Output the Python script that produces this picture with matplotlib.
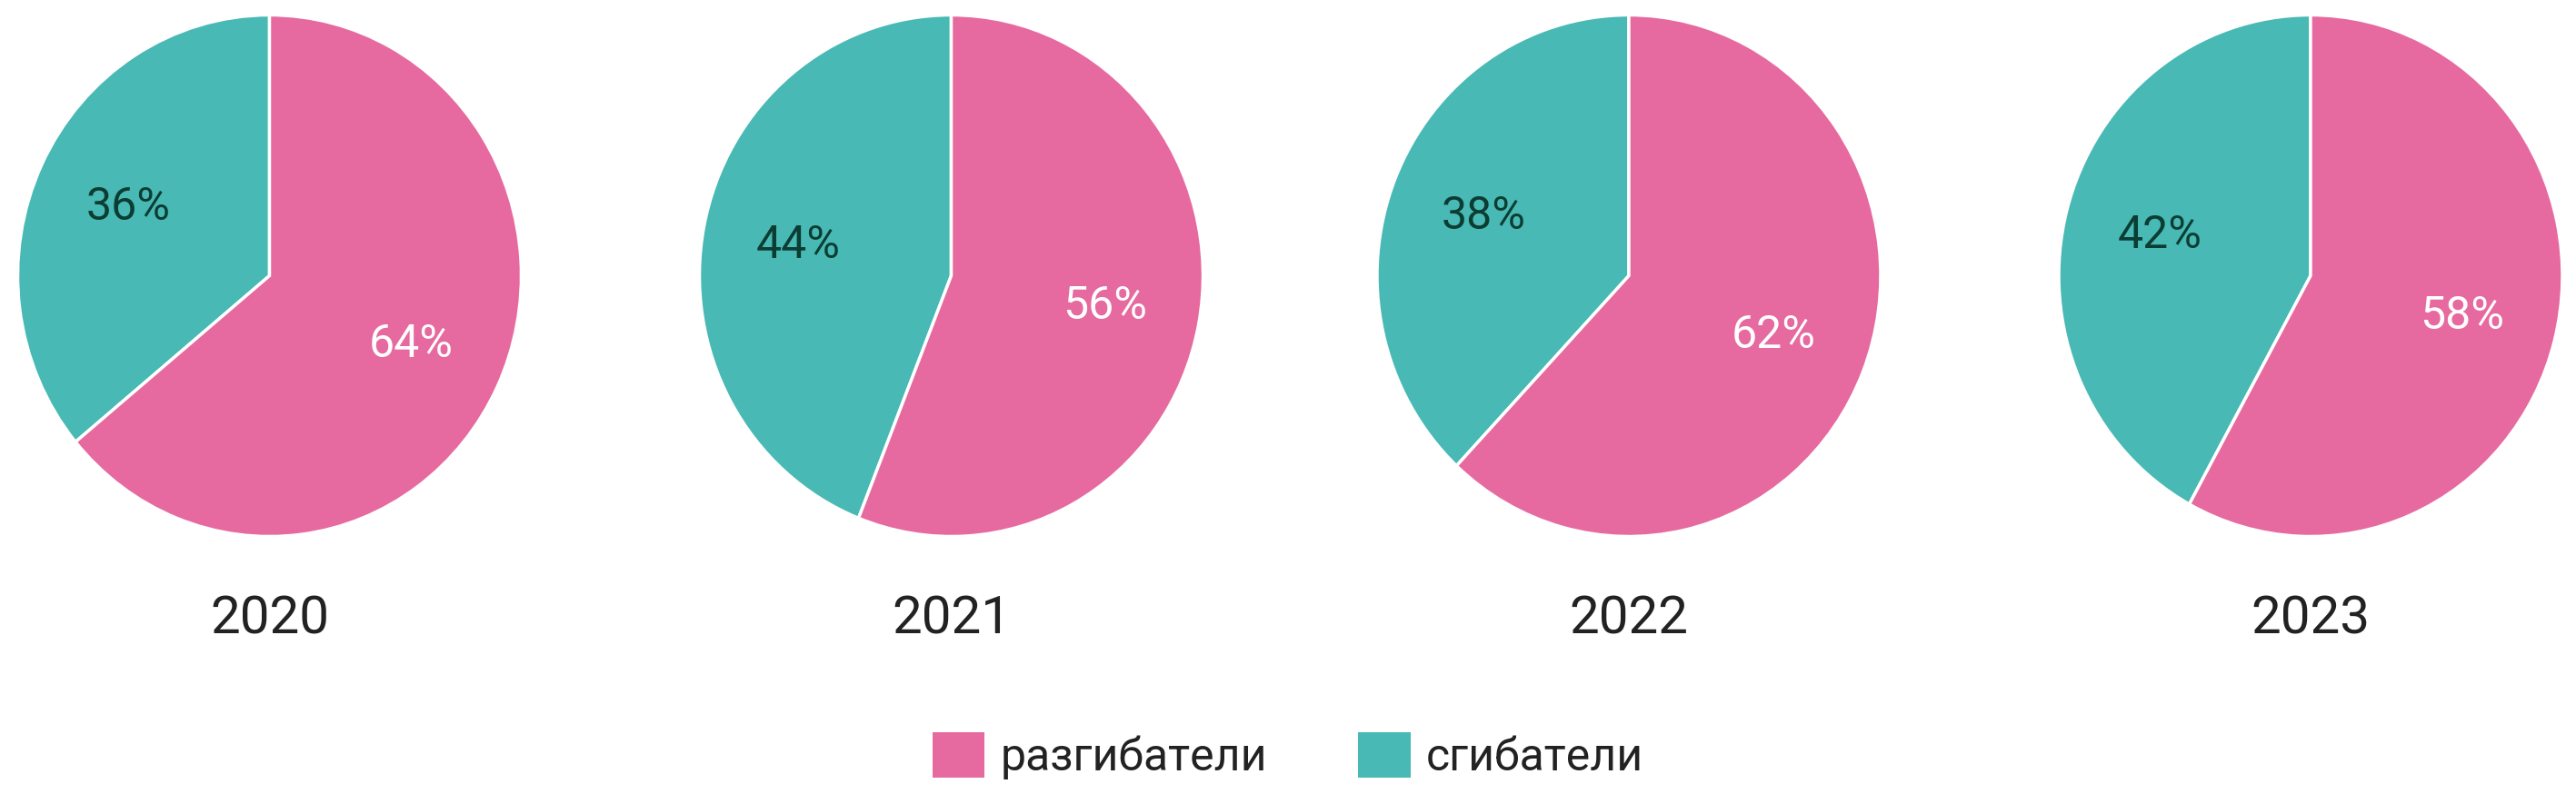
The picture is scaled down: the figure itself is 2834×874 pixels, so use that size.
import matplotlib
matplotlib.use("Agg")
import matplotlib.pyplot as plt
from matplotlib.patches import Patch

PINK = "#E66A9F"
TEAL = "#48B9B4"

years = ["2020", "2021", "2022", "2023"]
flexors = [36, 44, 38, 42]      # сгибатели
extensors = [64, 56, 62, 58]    # разгибатели
legend_labels = ["разгибатели", "сгибатели"]

W, H = 2834, 874
plt.rcParams["font.family"] = ["Roboto", "DejaVu Sans"]

fig = plt.figure(figsize=(W / 100, H / 100), dpi=100)
fig.patch.set_facecolor("white")

# pie geometry in pixels (the source is stretched slightly vertically)
centers_x = [296.5, 1046.5, 1792, 2542]
center_y = 303.5
rx, ry = 277, 287

for cx, year, f, e in zip(centers_x, years, flexors, extensors):
    ax = fig.add_axes([(cx - rx) / W, (H - center_y - ry) / H,
                       2 * rx / W, 2 * ry / H])
    wedges, texts, autotexts = ax.pie(
        [f, e], colors=[TEAL, PINK], startangle=90, counterclock=True,
        autopct="%d%%", pctdistance=0.62, radius=1,
        wedgeprops=dict(edgecolor="white", linewidth=2.5),
        textprops=dict(fontsize=36),
    )
    autotexts[0].set_color("#0B3D33")
    autotexts[1].set_color("white")
    ax.set_xlim(-1.0, 1.0)
    ax.set_ylim(-1.0, 1.0)
    ax.set_aspect("auto")
    ax.axis("off")
    fig.text(cx / W, 1 - 682 / H, year, ha="center", va="center",
             fontsize=42, color="#222222")

handles = [Patch(facecolor=PINK, edgecolor="none"),
           Patch(facecolor=TEAL, edgecolor="none")]
fig.legend(handles, legend_labels, loc="center", bbox_to_anchor=(1417 / W, 1 - 832 / H),
           ncol=2, frameon=False, fontsize=36, handlelength=1.15, handleheight=1.15,
           handletextpad=0.35, columnspacing=2.0, labelcolor="#222222")

fig.savefig("out.png", dpi=100, facecolor="white")
